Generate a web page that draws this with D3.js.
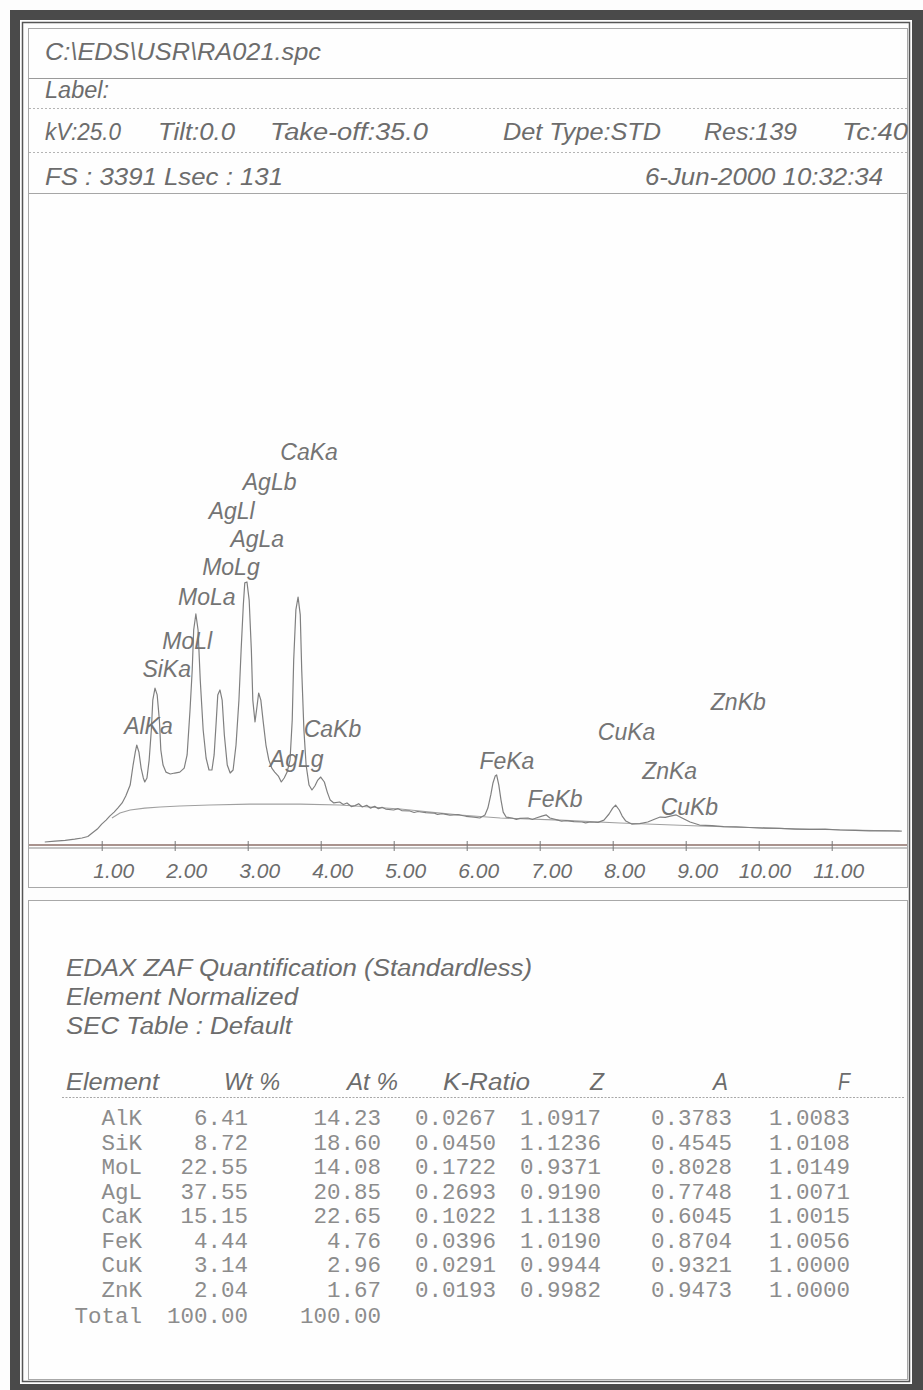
<!DOCTYPE html>
<html>
<head>
<meta charset="utf-8">
<script src="https://cdn.jsdelivr.net/npm/d3@7"></script>
<style>
  html, body { margin: 0; padding: 0; background: #ffffff; }
  svg { display: block; }
</style>
</head>
<body>
<svg id="page" width="923" height="1390"></svg>
<script>
// ---- Acquisition header ----
const specFile = "C:\\EDS\\USR\\RA021.spc";
const fullScale = 3391;          // FS counts (top of the plot)
const liveSeconds = 131;
const acqDate = "6-Jun-2000 10:32:34";

// ---- Spectrum: [energy keV, counts] ----
const spectrum = [
  [0.22,21],[0.36,26],[0.50,30],[0.63,36],[0.73,42],[0.81,50],[0.87,68],[0.94,89],
  [1.00,115],[1.06,136],[1.11,157],[1.17,178],[1.22,199],[1.28,226],[1.33,262],[1.39,320],
  [1.43,425],[1.46,493],[1.48,530],[1.51,493],[1.54,409],[1.57,357],[1.59,336],[1.62,357],
  [1.65,451],[1.68,609],[1.70,766],[1.73,829],[1.76,793],[1.79,661],[1.81,504],[1.84,425],
  [1.88,388],[1.94,378],[2.00,383],[2.07,388],[2.13,409],[2.17,478],[2.21,714],[2.24,924],
  [2.26,1134],[2.29,1218],[2.32,1134],[2.35,871],[2.39,609],[2.43,462],[2.47,399],[2.51,399],
  [2.54,478],[2.57,661],[2.59,793],[2.62,819],[2.65,766],[2.68,583],[2.72,425],[2.76,383],
  [2.80,399],[2.84,530],[2.88,766],[2.91,1029],[2.94,1265],[2.96,1381],[2.99,1386],[3.02,1291],
  [3.05,1029],[3.07,766],[3.10,651],[3.13,740],[3.15,803],[3.18,766],[3.21,661],[3.25,530],
  [3.29,451],[3.33,409],[3.37,388],[3.42,367],[3.46,336],[3.50,357],[3.54,388],[3.58,451],
  [3.61,661],[3.63,976],[3.66,1239],[3.69,1307],[3.72,1213],[3.74,924],[3.77,609],[3.80,425],
  [3.84,320],[3.88,294],[3.92,315],[3.96,346],[4.00,362],[4.05,336],[4.09,283],[4.13,241],
  [4.18,226],[4.26,231],[4.31,218],[4.36,226],[4.42,207],[4.47,212],[4.52,222],[4.57,205],
  [4.63,214],[4.68,199],[4.74,208],[4.79,196],[4.84,203],[4.89,194],[5.00,189],[5.06,196],
  [5.11,186],[5.22,184],[5.28,176],[5.33,181],[5.44,175],[5.55,173],[5.60,166],[5.66,170],
  [5.77,162],[5.88,165],[5.99,156],[6.10,152],[6.18,147],[6.25,163],[6.29,199],[6.33,268],
  [6.36,331],[6.39,367],[6.41,373],[6.44,320],[6.47,241],[6.50,178],[6.54,152],[6.62,147],
  [6.68,140],[6.73,145],[6.84,147],[6.90,139],[6.95,147],[7.03,157],[7.09,163],[7.14,147],
  [7.25,136],[7.30,130],[7.36,133],[7.47,128],[7.58,126],[7.63,121],[7.69,126],[7.80,124],
  [7.88,136],[7.95,168],[8.00,199],[8.04,215],[8.09,189],[8.13,157],[8.18,131],[8.26,115],
  [8.37,117],[8.48,126],[8.58,142],[8.65,152],[8.72,150],[8.79,157],[8.87,163],[8.95,147],
  [9.06,126],[9.19,110],[9.36,107],[9.52,102],[9.69,100],[9.88,97],[10.09,94],[10.29,92],
  [10.50,89],[10.70,87],[10.91,89],[11.11,84],[11.32,82],[11.52,79],[11.73,80],[11.96,78]
];

// ---- Fitted background: [energy keV, counts] ----
const background = [
  [1.14,147],[1.25,173],[1.39,189],[1.59,199],[1.80,205],[2.07,210],[2.48,215],[3.03,220],
  [3.72,220],[4.26,215],[5.09,194],[5.91,163],[6.46,147],[7.28,136],[8.10,121],[9.19,105],
  [10.56,89],[11.93,79]
];

// ---- Peak identification: line name, energy keV, label height (counts) ----
const peakNames    = ["AlKa","SiKa","MoLl","MoLa","MoLg","AgLl","AgLa","AgLb","AgLg","CaKa","CaKb",
                      "FeKa","FeKb","CuKa","ZnKa","CuKb","ZnKb"];
const peakEnergies = [1.49, 1.74, 2.02, 2.29, 2.62, 2.63, 2.98, 3.15, 3.52, 3.69, 4.01,
                      6.40, 7.06, 8.04, 8.63, 8.90, 9.57];
const labelHeights = [588, 887, 1034, 1265, 1422, 1716, 1569, 1869, 415, 2026, 572,
                      404, 205, 556, 352, 163, 714];

// ---- Energy axis ticks (keV) ----
const energyTicks = [1,2,3,4,5,6,7,8,9,10,11];

// ---- ZAF quantification table ----
const tableHeads = ["Element","Wt %","At %","K-Ratio","Z","A","F"];
const elements   = ["AlK","SiK","MoL","AgL","CaK","FeK","CuK","ZnK"];
const wtPct      = ["6.41","8.72","22.55","37.55","15.15","4.44","3.14","2.04"];
const atPct      = ["14.23","18.60","14.08","20.85","22.65","4.76","2.96","1.67"];
const kRatio     = ["0.0267","0.0450","0.1722","0.2693","0.1022","0.0396","0.0291","0.0193"];
const zFactor    = ["1.0917","1.1236","0.9371","0.9190","1.1138","1.0190","0.9944","0.9982"];
const aFactor    = ["0.3783","0.4545","0.8028","0.7748","0.6045","0.8704","0.9321","0.9473"];
const fFactor    = ["1.0083","1.0108","1.0149","1.0071","1.0015","1.0056","1.0000","1.0000"];
const totalRow   = ["Total","100.00","100.00"];

// ================= drawing =================
const svg = d3.select("#page");
const ink = "#6c6c6c";
const sans = "'Liberation Sans', Arial, sans-serif";
const mono = "'Liberation Mono', 'DejaVu Sans Mono', monospace";

svg.append("rect").attr("width", 923).attr("height", 1390).attr("fill", "#fdfdfd");

// heavy outer frame
const frame = svg.append("g").attr("fill", "#4a4a4a");
frame.append("rect").attr("x", 10).attr("y", 10).attr("width", 913).attr("height", 10);
frame.append("rect").attr("x", 10).attr("y", 10).attr("width", 10).attr("height", 1380);
frame.append("rect").attr("x", 912).attr("y", 10).attr("width", 11).attr("height", 1380);
frame.append("rect").attr("x", 10).attr("y", 1384).attr("width", 913).attr("height", 6);
svg.append("rect").attr("x", 22.5).attr("y", 22.5).attr("width", 887).attr("height", 1359)
  .attr("fill", "none").attr("stroke", "#555").attr("stroke-width", 1.5);

// panels
svg.append("rect").attr("x", 28.5).attr("y", 28.5).attr("width", 879).attr("height", 859)
  .attr("fill", "#fefefe").attr("stroke", "#a8a8a8").attr("stroke-width", 1);
svg.append("rect").attr("x", 28.5).attr("y", 900.5).attr("width", 879).attr("height", 479)
  .attr("fill", "#fefefe").attr("stroke", "#a8a8a8").attr("stroke-width", 1);

// header rows
function htext(str, x, y, len, anchor, size) {
  const t = svg.append("text").attr("x", x).attr("y", y)
    .attr("font-family", sans).attr("font-style", "italic").attr("font-size", size || 23)
    .attr("fill", ink).attr("text-anchor", anchor || "start").text(str);
  if (len) t.attr("textLength", len).attr("lengthAdjust", "spacingAndGlyphs");
  return t;
}
htext(specFile, 45, 60, 276);
htext("Label:", 45, 98, 64);
htext("kV:25.0", 45, 140, 76);
htext("Tilt:0.0", 158, 140, 77);
htext("Take-off:35.0", 270, 140, 158);
htext("Det Type:STD", 503, 140, 158);
htext("Res:139", 704, 140, 93);
htext("Tc:40", 842, 140, 66);
htext("FS : " + fullScale + "  Lsec : " + liveSeconds, 45, 185, 238);
htext(acqDate, 645, 185, 238);

function hline(y, dashed, color) {
  svg.append("line").attr("x1", 29).attr("x2", 907).attr("y1", y).attr("y2", y)
    .attr("stroke", color || "#a0a0a0").attr("stroke-width", 1)
    .attr("stroke-dasharray", dashed ? "2,2" : null);
}
hline(78.5, false, "#9a9a9a");
hline(108.5, true, "#b4b4b4");
hline(152.5, true, "#b4b4b4");
hline(193.5, false, "#a6a6a6");

// ---- spectrum plot ----
const x = d3.scaleLinear().domain([0, 12]).range([28.7, 904.7]);
const y = d3.scaleLinear().domain([0, fullScale]).range([846, 200]);

const line = d3.line().x(d => x(d[0])).y(d => y(d[1]));

svg.append("path").datum(background).attr("d", line)
  .attr("fill", "none").attr("stroke", "#a0a0a0").attr("stroke-width", 1.1);
svg.append("path").datum(spectrum).attr("d", line)
  .attr("fill", "none").attr("stroke", "#808080").attr("stroke-width", 1.2)
  .attr("stroke-linejoin", "round");

// peak labels
svg.append("g").selectAll("text").data(peakNames).join("text")
  .attr("x", (d, i) => x(peakEnergies[i]) + 11)
  .attr("y", (d, i) => y(labelHeights[i]))
  .attr("text-anchor", "middle")
  .attr("font-family", sans).attr("font-style", "italic").attr("font-size", 23)
  .attr("fill", "#747474")
  .text(d => d);

// energy axis: double rule plus ticks
svg.append("line").attr("x1", 29).attr("x2", 907).attr("y1", 845).attr("y2", 845)
  .attr("stroke", "#8d6f68").attr("stroke-width", 1.3);
svg.append("line").attr("x1", 29).attr("x2", 907).attr("y1", 848).attr("y2", 848)
  .attr("stroke", "#8a8a8a").attr("stroke-width", 1.1);

const axis = svg.append("g").attr("transform", "translate(0,846)")
  .call(d3.axisBottom(x).tickValues(energyTicks).tickFormat(d3.format(".2f")).tickSize(5));
axis.select(".domain").remove();
axis.selectAll(".tick line").attr("y1", -5).attr("y2", 5).attr("stroke", "#777");
axis.selectAll(".tick text")
  .attr("x", 32).attr("y", 32).attr("dy", 0).attr("text-anchor", "end")
  .attr("font-family", sans).attr("font-style", "italic").attr("font-size", 21)
  .attr("fill", ink);

// ---- quantification panel ----
htext("EDAX ZAF Quantification (Standardless)", 66, 976, 466);
htext("Element Normalized", 66, 1005, 232);
htext("SEC Table : Default", 66, 1034, 226);

// column headings: [anchor x, rendered width]
const headX = [66, 280, 398, 530, 604, 728, 850];
const headW = [93, 56, 51, 87, 14, 15, 12];
svg.append("g").selectAll("text").data(tableHeads).join("text")
  .attr("x", (d, i) => i === 0 ? headX[i] : headX[i] - headW[i]).attr("y", 1090)
  .attr("textLength", (d, i) => headW[i]).attr("lengthAdjust", "spacingAndGlyphs")
  .attr("font-family", sans).attr("font-style", "italic").attr("font-size", 23)
  .attr("fill", ink).text(d => d);
svg.append("line").attr("x1", 62).attr("x2", 905).attr("y1", 1097.5).attr("y2", 1097.5)
  .attr("stroke", "#a8a8a8").attr("stroke-dasharray", "2,1.5");

const colRight = [142, 248, 381, 496, 601, 732, 850];
const columns = [elements, wtPct, atPct, kRatio, zFactor, aFactor, fFactor];
const rowY = i => 1125 + i * 24.5;
const body = svg.append("g").attr("font-family", mono).attr("font-size", 22.5)
  .attr("fill", "#8c8c8c").attr("text-anchor", "end");
columns.forEach((col, c) => {
  body.selectAll(null).data(col).join("text")
    .attr("x", colRight[c]).attr("y", (d, i) => rowY(i)).text(d => d);
});
body.selectAll(null).data(totalRow).join("text")
  .attr("x", (d, i) => colRight[i]).attr("y", rowY(elements.length) + 2).text(d => d);
</script>
</body>
</html>
